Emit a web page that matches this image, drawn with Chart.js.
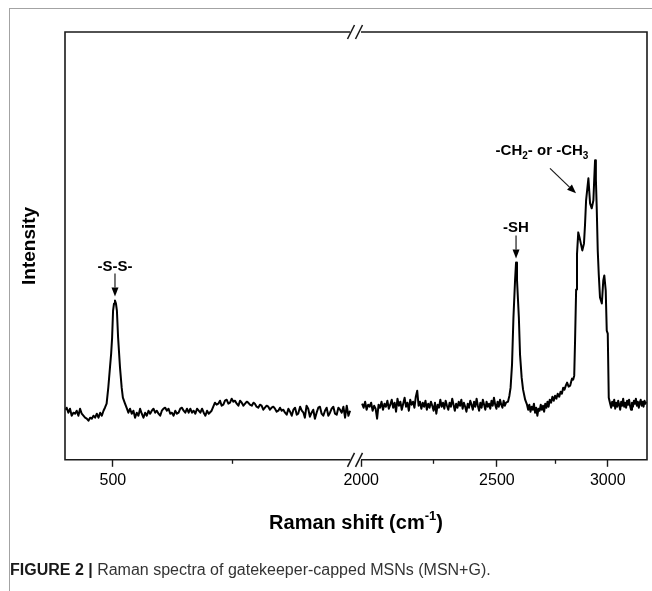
<!DOCTYPE html>
<html>
<head>
<meta charset="utf-8">
<title>Raman spectra MSN+G</title>
<script src="https://cdn.jsdelivr.net/npm/chart.js@4"></script>
<style>
    html, body { margin: 0; padding: 0; background: #fff; }
    #wrap { position: relative; width: 652px; height: 591px; overflow: hidden; }
    #borda { position: absolute; left: 9px; top: 8px; width: 660px; height: 600px; border-top: 1px solid #a3a3a3; border-left: 1px solid #a3a3a3; }
    #grafico { position: absolute; left: 0; top: 0; }
    #legenda { position: absolute; left: 10px; top: 561px; font: 16px "Liberation Sans", Arial, sans-serif; color: #333; white-space: nowrap; }
    #legenda b { color: #1a1a1a; }
</style>
</head>
<body>
<div id="wrap">
    <div id="borda"></div>
    <canvas id="grafico" width="652" height="591"></canvas>
    <div id="legenda"><b>FIGURE 2 |</b> Raman spectra of gatekeeper-capped MSNs (MSN+G).</div>
</div>
<script>
const leftShift = [
    302, 307, 314, 321, 328, 335, 342, 349, 356, 363,
    370, 377, 384, 391, 398, 405, 412, 419, 426, 433,
    440, 447, 454, 461, 467, 474, 481, 488, 493, 497,
    501, 505, 509, 513, 517, 522, 530, 537, 542, 551,
    559, 565, 572, 579, 586, 593, 600, 607, 614, 621,
    628, 635, 642, 649, 656, 663, 670, 677, 684, 691,
    698, 705, 712, 719, 726, 733, 740, 747, 754, 761,
    768, 775, 782, 789, 796, 803, 810, 817, 824, 831,
    838, 845, 852, 859, 866, 873, 880, 887, 894, 901,
    913, 920, 927, 934, 941, 948, 955, 962, 969, 976,
    983, 990, 997, 1004, 1011, 1018, 1025, 1032, 1039, 1046,
    1053, 1060, 1066, 1073, 1081, 1088, 1094, 1101, 1108, 1115,
    1122, 1129, 1136, 1143, 1150, 1157, 1164, 1171, 1178, 1185,
    1192, 1199, 1206, 1213, 1220, 1227, 1234, 1241, 1248, 1255,
    1262, 1269, 1275, 1283, 1290, 1297, 1303, 1310, 1317, 1324,
    1331, 1338, 1345, 1352, 1359, 1366, 1373, 1380, 1387, 1394,
    1401, 1408, 1415, 1422, 1429, 1436, 1443, 1450, 1457, 1464,
    1471, 1478, 1485, 1492
];
const leftIntensity = [
    50, 52, 47, 51, 44, 47, 46, 49, 44, 51,
    46, 44, 42, 41, 39, 42, 41, 44, 42, 46,
    42, 47, 44, 49, 52, 56, 72, 92, 106, 122,
    149, 156, 159, 156, 149, 122, 92, 72, 62, 56,
    51, 47, 51, 46, 49, 42, 47, 44, 51, 46,
    42, 47, 44, 49, 46, 49, 51, 47, 49, 46,
    44, 49, 51, 52, 49, 51, 46, 47, 44, 49,
    46, 47, 51, 52, 49, 47, 51, 47, 51, 47,
    49, 46, 51, 49, 47, 51, 47, 44, 49, 46,
    49, 53, 57, 55, 56, 59, 54, 55, 59, 60,
    56, 57, 61, 58, 59, 56, 54, 59, 57, 54,
    56, 58, 57, 55, 54, 57, 56, 53, 52, 55,
    54, 50, 52, 54, 53, 50, 52, 53, 51, 48,
    49, 52, 49, 50, 47, 45, 51, 48, 44, 50,
    52, 45, 46, 53, 49, 47, 42, 54, 51, 43,
    47, 50, 41, 47, 52, 53, 46, 44, 49, 52,
    44, 47, 51, 53, 46, 45, 52, 50, 47, 53,
    42, 54, 44, 49
];

const rightShift = [
    2003, 2008, 2013, 2018, 2023, 2028, 2033, 2038, 2043, 2048,
    2053, 2058, 2063, 2068, 2073, 2078, 2083, 2088, 2093, 2098,
    2103, 2108, 2113, 2118, 2123, 2128, 2133, 2138, 2143, 2148,
    2153, 2158, 2163, 2168, 2173, 2178, 2183, 2188, 2193, 2198,
    2203, 2208, 2213, 2218, 2223, 2228, 2233, 2238, 2243, 2248,
    2253, 2258, 2263, 2268, 2273, 2278, 2283, 2288, 2293, 2298,
    2303, 2308, 2313, 2318, 2323, 2328, 2333, 2338, 2343, 2348,
    2353, 2358, 2363, 2368, 2373, 2378, 2383, 2388, 2393, 2398,
    2403, 2408, 2413, 2418, 2423, 2428, 2433, 2438, 2443, 2448,
    2453, 2458, 2463, 2468, 2473, 2478, 2483, 2488, 2493, 2498,
    2503, 2508, 2513, 2518, 2523, 2528, 2533, 2538,
    2546, 2552, 2557, 2563, 2569, 2576, 2580, 2584, 2592, 2597, 2604, 2610, 2619, 2627,
    2632, 2637, 2642, 2647, 2652, 2657, 2662, 2667, 2672, 2677,
    2682, 2687, 2692, 2697, 2702, 2707, 2712, 2717, 2722, 2727,
    2733, 2739, 2745, 2751, 2757, 2763, 2770, 2776, 2782, 2788,
    2794, 2800, 2806, 2813, 2820, 2826, 2829, 2834, 2839, 2843,
    2848, 2852, 2858, 2864, 2870, 2877, 2885, 2890, 2895, 2906,
    2914, 2922, 2930, 2934, 2938, 2942, 2946, 2951, 2956, 2962,
    2971, 2978, 2983, 2990, 2995, 3000, 3005, 3012,
    3017, 3022, 3027, 3032, 3037, 3042, 3047, 3052, 3057, 3062,
    3067, 3072, 3077, 3082, 3087, 3092, 3097, 3102, 3107, 3112,
    3117, 3122, 3127, 3132, 3137, 3142, 3147, 3152, 3157, 3162,
    3167, 3172, 3177, 3182, 3187, 3192, 3197
];
const rightIntensity = [
    56, 52, 58, 50, 55, 53, 57, 49, 54, 51,
    41, 55, 52, 58, 50, 56, 53, 59, 51, 55,
    60, 52, 57, 48, 61, 54, 58, 50, 56, 62,
    53, 57, 49, 60, 55, 58, 52, 63, 69, 54,
    58, 51, 57, 53, 59, 50, 56, 52, 58, 54,
    49, 57, 46, 55, 52, 60, 53, 57, 51, 59,
    54, 50, 57, 53, 61, 55, 49, 56, 52, 58,
    54, 60, 51, 57, 53, 48, 56, 52, 59, 55,
    50, 58, 53, 61, 54, 49, 57, 52, 60, 55,
    50, 58, 53, 56, 51, 59, 54, 62, 55, 51,
    58, 53, 60, 55, 52, 59, 54, 57,
    58, 64, 72, 95, 142, 180, 197, 180, 142, 105, 82, 70, 60, 55,
    50, 55, 48, 53, 50, 56, 47, 52, 44, 51,
    49, 55, 50, 54, 48, 56, 52, 58, 53, 60,
    57, 63, 59, 64, 61, 66, 63, 68, 66, 72,
    70, 74, 77, 73, 74, 79, 81, 80, 84, 119,
    170, 205, 227, 222, 216, 209, 216, 235, 259, 281,
    256, 251, 259, 280, 299, 280, 252, 209, 185, 162,
    156, 179, 184, 169, 129, 126, 62, 56,
    52, 58, 54, 60, 51, 57, 53, 59, 55, 50,
    58, 54, 61, 53, 57, 52, 59, 55, 60, 54,
    50, 57, 53, 59, 56, 61, 54, 58, 52, 57,
    60, 54, 58, 53, 59, 56, 58
];

const leftTicks = [500, 1000];
const rightTicks = [2000, 2250, 2500, 2750, 3000];
const labeledTicks = [500, 2000, 2500, 3000];

// picos anotados: [deslocamento Raman, intensidade, texto]
const ssPeak = [509, 159, '-S-S-'];
const shPeak = [2580, 197, '-SH'];
const chPeak = [2852, 227];

const FONTE = '"Liberation Sans", Arial, Helvetica, sans-serif';
Chart.defaults.font.family = FONTE;
Chart.defaults.color = '#000';

// --- SETAS ---
function seta(ctx, x1, y1, x2, y2) {
    const ang = Math.atan2(y2 - y1, x2 - x1);
    const len = 9, half = 3.5;
    ctx.beginPath();
    ctx.moveTo(x1, y1);
    ctx.lineTo(x2 - Math.cos(ang) * len, y2 - Math.sin(ang) * len);
    ctx.stroke();
    ctx.beginPath();
    ctx.moveTo(x2, y2);
    ctx.lineTo(x2 - Math.cos(ang) * len - Math.sin(ang) * half, y2 - Math.sin(ang) * len + Math.cos(ang) * half);
    ctx.lineTo(x2 - Math.cos(ang) * len + Math.sin(ang) * half, y2 - Math.sin(ang) * len - Math.cos(ang) * half);
    ctx.closePath();
    ctx.fill();
}

// --- MOLDURA, QUEBRA DO EIXO, TITULOS E ANOTACOES ---
const molduraPlugin = {
    id: 'moldura',
    afterDraw(chart) {
        const { ctx, chartArea: a, scales } = chart;
        const { xL, xR, y } = scales;
        const bx = xL.right + 3;

        ctx.save();
        ctx.strokeStyle = '#1a1a1a';
        ctx.fillStyle = '#000';
        ctx.lineWidth = 1.6;
        ctx.beginPath();
        ctx.moveTo(bx - 5, a.top); ctx.lineTo(a.left, a.top); ctx.lineTo(a.left, a.bottom); ctx.lineTo(bx - 5, a.bottom);
        ctx.moveTo(bx + 6, a.top); ctx.lineTo(a.right, a.top); ctx.lineTo(a.right, a.bottom); ctx.lineTo(bx + 6, a.bottom);
        ctx.stroke();

        ctx.lineWidth = 1.5;
        for (const yy of [a.top, a.bottom]) {
            for (const dx of [-4, 4]) {
                ctx.beginPath();
                ctx.moveTo(bx + dx - 3.5, yy + 7);
                ctx.lineTo(bx + dx + 3.5, yy - 7);
                ctx.stroke();
            }
        }

        // ticks menores
        ctx.lineWidth = 1.3;
        [[xL, leftTicks], [xR, rightTicks]].forEach(([sc, vals]) => {
            vals.filter(v => !labeledTicks.includes(v)).forEach(v => {
                const px = Math.round(sc.getPixelForValue(v)) + 0.5;
                ctx.beginPath(); ctx.moveTo(px, a.bottom); ctx.lineTo(px, a.bottom + 4); ctx.stroke();
            });
        });

        // anotacoes
        ctx.lineWidth = 1.2;
        ctx.font = 'bold 15px ' + FONTE;
        ctx.textAlign = 'center';
        ctx.textBaseline = 'alphabetic';
        [[xL, ssPeak], [xR, shPeak]].forEach(([sc, p]) => {
            const px = sc.getPixelForValue(p[0]);
            const top = y.getPixelForValue(p[1]);
            seta(ctx, px, top - 27, px, top - 4);
            ctx.fillText(p[2], px, top - 30);
        });

        const cx = xR.getPixelForValue(chPeak[0]);
        const cy = y.getPixelForValue(chPeak[1]);
        seta(ctx, cx - 27, cy - 64, cx - 1, cy - 39);
        const pecas = [['-CH', 15, 0], ['2', 10, 4], ['- or -CH', 15, 0], ['3', 10, 4]];
        let largura = 0;
        pecas.forEach(p => { ctx.font = 'bold ' + p[1] + 'px ' + FONTE; largura += ctx.measureText(p[0]).width; });
        let tx = cx - 35 - largura / 2;
        ctx.textAlign = 'left';
        pecas.forEach(p => {
            ctx.font = 'bold ' + p[1] + 'px ' + FONTE;
            ctx.fillText(p[0], tx, cy - 77 + p[2]);
            tx += ctx.measureText(p[0]).width;
        });

        // titulo do eixo x com expoente
        const partes = [['Raman shift (cm', 20, 0], ['-1', 13, -9], [')', 20, 0]];
        largura = 0;
        partes.forEach(p => { ctx.font = 'bold ' + p[1] + 'px ' + FONTE; largura += ctx.measureText(p[0]).width; });
        tx = (a.left + a.right) / 2 - largura / 2;
        partes.forEach(p => {
            ctx.font = 'bold ' + p[1] + 'px ' + FONTE;
            ctx.fillText(p[0], tx, 529 + p[2]);
            tx += ctx.measureText(p[0]).width;
        });

        // titulo do eixo y
        ctx.translate(30, (a.top + a.bottom) / 2);
        ctx.rotate(-Math.PI / 2);
        ctx.textAlign = 'center';
        ctx.textBaseline = 'middle';
        ctx.font = 'bold 19px ' + FONTE;
        ctx.fillText('Intensity', 0, 0);
        ctx.restore();
    }
};

// --- EIXOS ---
function eixoX(tipo, peso, min, max, ticks) {
    return {
        type: tipo,
        position: 'bottom',
        stack: 'raman',
        stackWeight: peso,
        min: min,
        max: max,
        afterBuildTicks: (axis) => { axis.ticks = ticks.map(v => ({ value: v })); },
        ticks: {
            autoSkip: false,
            maxRotation: 0,
            padding: 4,
            font: { size: 16 },
            color: '#000',
            callback: (v) => labeledTicks.includes(v) ? String(v) : ''
        },
        grid: {
            drawOnChartArea: false,
            tickLength: 7,
            tickWidth: 1.4,
            tickColor: (c) => c.tick && labeledTicks.includes(c.tick.value) ? '#1a1a1a' : 'rgba(0,0,0,0)'
        },
        border: { display: false }
    };
}

// --- GRAFICO ---
new Chart(document.getElementById('grafico'), {
    type: 'line',
    data: {
        datasets: [
            { data: leftShift.map((x, i) => ({ x: x, y: leftIntensity[i] })), xAxisID: 'xL', yAxisID: 'y' },
            { data: rightShift.map((x, i) => ({ x: x, y: rightIntensity[i] })), xAxisID: 'xR', yAxisID: 'y' }
        ]
    },
    options: {
        responsive: false,
        animation: false,
        devicePixelRatio: 1,
        layout: { padding: { left: 65, right: 5, top: 32, bottom: 97 } },
        elements: {
            line: { borderColor: '#000', borderWidth: 2, tension: 0, borderJoinStyle: 'round' },
            point: { radius: 0 }
        },
        plugins: { legend: { display: false }, tooltip: { enabled: false } },
        scales: {
            xL: eixoX('linear', 287, 300, 1500, leftTicks),
            xR: eixoX('logarithmic', 295, 1970, 3200, rightTicks),
            y: { display: false, min: 0, max: 427 }
        }
    },
    plugins: [molduraPlugin]
});
</script>
</body>
</html>
